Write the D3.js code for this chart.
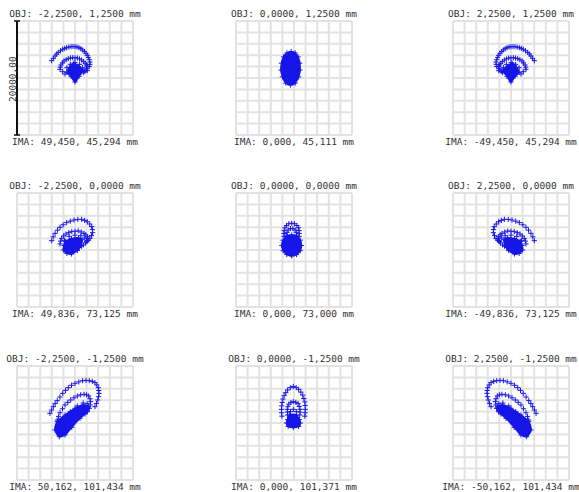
<!DOCTYPE html>
<html>
<head>
<meta charset="utf-8">
<script src="https://cdn.jsdelivr.net/npm/d3@7"></script>
<style>
  html, body { margin: 0; padding: 0; background: #fff; }
  svg { display: block; }
  text { font-family: "DejaVu Sans Mono", "Liberation Mono", monospace; font-size: 9.5px; fill: #333; }
</style>
</head>
<body>
<svg id="chart" width="579" height="492"></svg>
<script>
// Spot diagram: 3 x 3 field points, ray intercepts in µm relative to the chief ray.
const objLabels = [
  "OBJ: -2,2500, 1,2500 mm", "OBJ: 0,0000, 1,2500 mm", "OBJ: 2,2500, 1,2500 mm",
  "OBJ: -2,2500, 0,0000 mm", "OBJ: 0,0000, 0,0000 mm", "OBJ: 2,2500, 0,0000 mm",
  "OBJ: -2,2500, -1,2500 mm", "OBJ: 0,0000, -1,2500 mm", "OBJ: 2,2500, -1,2500 mm"
];
const imaLabels = [
  "IMA: 49,450, 45,294 mm", "IMA: 0,000, 45,111 mm", "IMA: -49,450, 45,294 mm",
  "IMA: 49,836, 73,125 mm", "IMA: 0,000, 73,000 mm", "IMA: -49,836, 73,125 mm",
  "IMA: 50,162, 101,434 mm", "IMA: 0,000, 101,371 mm", "IMA: -50,162, 101,434 mm"
];
const boxSize = 20000;          // full width of each plot box, µm
const scaleLabel = "20000,00";

// Field 1 (-2.25, 1.25)
const f1Rings = [
  [[-4020,3040],[-3720,3450],[-3440,3860],[-3160,4200],[-2880,4500],[-2500,4780],[-2120,5040],[-1780,5200],[-1440,5320],[-1060,5430],[-680,5500],[-340,5520],[0,5500],[340,5450],[680,5320],[1000,5140],[1320,4920],[1620,4640],[1900,4320],[2120,3980],[2300,3620],[2460,3220],[2580,2800],[2560,2400],[2460,2000],[2120,1280]],
  [[-2580,1520],[-2540,1900],[-2420,2280],[-2160,2640],[-1900,2980],[-1530,3200],[-1160,3400],[-780,3500],[-400,3560],[0,3550],[400,3500],[780,3350],[1140,3160],[1480,2880],[1780,2580],[1980,2300],[2120,2000],[2040,1700],[1900,1400],[1680,1160],[1440,940],[-2120,1100],[-1720,700]],
  [[-1400,1800],[-800,2400],[0,2700],[800,2400],[1300,1800]]
];
const f1Core = [[-200,2600],[600,2000],[1400,1300],[700,300],[0,-700],[-700,300],[-1400,1000],[-900,1900]];

// Field 2 (0, 1.25)
const f2Rings = [
  [[-1200,3600],[-600,3900],[0,3600],[-1400,2800],[200,2800]]
];
const f2Core = [[-500,4620],[200,4400],[700,3700],[1000,2600],[1040,1400],[800,200],[200,-900],[-600,-1220],[-1400,-900],[-2000,200],[-2240,1400],[-2160,2600],[-1800,3700],[-1200,4400]];

// Field 3 (2.25, 1.25)
const f3Rings = [
  [[4020,3040],[3720,3450],[3440,3860],[3160,4200],[2880,4500],[2500,4780],[2120,5040],[1780,5200],[1440,5320],[1060,5430],[680,5500],[340,5520],[0,5500],[-340,5450],[-680,5320],[-1000,5140],[-1320,4920],[-1620,4640],[-1900,4320],[-2120,3980],[-2300,3620],[-2460,3220],[-2580,2800],[-2560,2400],[-2460,2000],[-2120,1280]],
  [[2580,1520],[2540,1900],[2420,2280],[2160,2640],[1900,2980],[1530,3200],[1160,3400],[780,3500],[400,3560],[0,3550],[-400,3500],[-780,3350],[-1140,3160],[-1480,2880],[-1780,2580],[-1980,2300],[-2120,2000],[-2040,1700],[-1900,1400],[-1680,1160],[-1440,940],[2120,1100],[1720,700]],
  [[1400,1800],[800,2400],[0,2700],[-800,2400],[-1300,1800]]
];
const f3Core = [[200,2600],[-600,2000],[-1400,1300],[-700,300],[0,-700],[700,300],[1400,1000],[900,1900]];

// Field 4 (-2.25, 0)
const f4Rings = [
  [[-4020,1640],[-3760,2300],[-3440,2920],[-3020,3480],[-2580,3980],[-2040,4420],[-1440,4800],[-820,5060],[-180,5260],[480,5360],[1140,5380],[1660,5200],[2120,4960],[2540,4560],[2880,4100],[3000,3580],[3040,3040],[2840,2520],[2580,2040],[2300,1740],[2000,1460]],
  [[-2580,1060],[-2480,1560],[-2300,2040],[-1960,2460],[-1560,2800],[-1080,3040],[-560,3220],[0,3300],[560,3340],[1080,3160],[1560,2920],[1860,2640],[2120,2340],[2160,1980],[2120,1640],[1800,1240],[1440,880],[1100,660],[740,480]],
  [[-1800,1700],[-1000,2400],[0,2600],[1000,2500],[1600,2100]]
];
const f4Core = [[-1600,1500],[-600,2000],[600,2100],[1200,1800],[1000,800],[400,-100],[-600,-700],[-1400,-600],[-2000,0],[-1900,800]];

// Field 5 (0, 0)
const f5Rings = [
  [[-1720,2400],[-1740,2900],[-1700,3400],[-1560,3900],[-1300,4300],[-900,4600],[-400,4700],[100,4600],[500,4300],[760,3900],[880,3400],[900,2900],[880,2400]],
  [[-1200,2600],[-1200,3100],[-1000,3500],[-600,3750],[-200,3750],[200,3500],[400,3100],[400,2600]]
];
const f5Core = [[1300,800],[1080,1720],[440,2400],[-400,2640],[-1240,2400],[-1880,1720],[-2100,800],[-1880,-120],[-1240,-800],[-400,-1040],[440,-800],[1080,-120]];

// Field 6 (2.25, 0)
const f6Rings = [
  [[4020,1640],[3760,2300],[3440,2920],[3020,3480],[2580,3980],[2040,4420],[1440,4800],[820,5060],[180,5260],[-480,5360],[-1140,5380],[-1660,5200],[-2120,4960],[-2540,4560],[-2880,4100],[-3000,3580],[-3040,3040],[-2840,2520],[-2580,2040],[-2300,1740],[-2000,1460]],
  [[2580,1060],[2480,1560],[2300,2040],[1960,2460],[1560,2800],[1080,3040],[560,3220],[0,3300],[-560,3340],[-1080,3160],[-1560,2920],[-1860,2640],[-2120,2340],[-2160,1980],[-2120,1640],[-1800,1240],[-1440,880],[-1100,660],[-740,480]],
  [[1800,1700],[1000,2400],[0,2600],[-1000,2500],[-1600,2100]]
];
const f6Core = [[1600,1500],[600,2000],[-600,2100],[-1200,1800],[-1000,800],[-400,-100],[600,-700],[1400,-600],[2000,0],[1900,800]];

// Field 7 (-2.25, -1.25)
const f7Rings = [
  [[-4320,1700],[-4040,2280],[-3740,2860],[-3420,3400],[-3060,3920],[-2600,4560],[-2120,5200],[-1640,5720],[-1160,6200],[-600,6620],[0,6960],[660,7220],[1320,7420],[1900,7480],[2460,7420],[2980,7300],[3440,7080],[3760,6680],[4000,6200],[4100,5700],[4140,5200],[4060,4620],[3920,4040],[3700,3440],[3440,2860]],
  [[-3060,520],[-2840,1160],[-2580,1800],[-2160,2500],[-1720,3160],[-1240,3620],[-740,4040],[-180,4420],[400,4740],[980,4940],[1560,5040],[2000,4940],[2360,4740],[2580,4260],[2700,3740],[2620,3160],[2460,2580],[2120,2060],[1720,1580]],
  [[-2400,-400],[-1800,800],[-800,2000],[400,3000],[1400,3500],[2100,3400],[2400,2600]]
];
const f7Core = [[-2700,-2400],[-3440,-1220],[-3060,240],[-1720,1400],[0,2580],[1440,3160],[2300,2860],[2120,1980],[860,820],[-560,-760],[-1720,-2100]];

// Field 8 (0, -1.25)
const f8Rings = [
  [[-2080,1200],[-2140,1800],[-2160,2400],[-2120,3000],[-2040,3600],[-1900,4200],[-1700,4800],[-1420,5320],[-1100,5800],[-640,6200],[-120,6400],[380,6200],[800,5900],[1180,5420],[1500,4900],[1700,4300],[1860,3700],[1920,3060],[1940,2400],[1920,1800],[1860,1200]],
  [[-1100,1400],[-1140,1900],[-1160,2400],[-1060,2860],[-900,3300],[-540,3580],[-120,3740],[320,3620],[700,3400],[900,2900],[1040,2400],[1040,1900],[1000,1400]],
  [[-800,1000],[-600,2000],[-120,2400],[400,2000],[600,1000]]
];
const f8Core = [[-800,1400],[400,1400],[900,600],[1100,0],[800,-600],[-120,-800],[-1000,-600],[-1300,0],[-1100,600]];

// Field 9 (2.25, -1.25)
const f9Rings = [
  [[4320,1700],[4040,2280],[3740,2860],[3420,3400],[3060,3920],[2600,4560],[2120,5200],[1640,5720],[1160,6200],[600,6620],[0,6960],[-660,7220],[-1320,7420],[-1900,7480],[-2460,7420],[-2980,7300],[-3440,7080],[-3760,6680],[-4000,6200],[-4100,5700],[-4140,5200],[-4060,4620],[-3920,4040],[-3700,3440],[-3440,2860]],
  [[3060,520],[2840,1160],[2580,1800],[2160,2500],[1720,3160],[1240,3620],[740,4040],[180,4420],[-400,4740],[-980,4940],[-1560,5040],[-2000,4940],[-2360,4740],[-2580,4260],[-2700,3740],[-2620,3160],[-2460,2580],[-2120,2060],[-1720,1580]],
  [[2400,-400],[1800,800],[800,2000],[-400,3000],[-1400,3500],[-2100,3400],[-2400,2600]]
];
const f9Core = [[2700,-2400],[3440,-1220],[3060,240],[1720,1400],[0,2580],[-1440,3160],[-2300,2860],[-2120,1980],[-860,820],[560,-760],[1720,-2100]];

const fieldRings = [f1Rings, f2Rings, f3Rings, f4Rings, f5Rings, f6Rings, f7Rings, f8Rings, f9Rings];
const fieldCores = [f1Core, f2Core, f3Core, f4Core, f5Core, f6Core, f7Core, f8Core, f9Core];

// Layout
const colX = [17, 236, 453];
const rowY = [21, 193, 366];
const boxW = 116, boxH = 114;
const spotColor = "#1616e8";

const svg = d3.select("#chart");
const half = boxSize / 2;
const plusPath = "M-2.6,0H2.6M0,-2.6V2.6";

fieldRings.forEach((rings, i) => {
  const x0 = colX[i % 3], y0 = rowY[Math.floor(i / 3)];
  const x = d3.scaleLinear().domain([-half, half]).range([x0, x0 + boxW]);
  const y = d3.scaleLinear().domain([-half, half]).range([y0 + boxH, y0]);
  const g = svg.append("g");

  // grid
  const ticks = d3.range(-half, half + 1, boxSize / 10);
  g.selectAll(".gx").data(ticks).join("line")
    .attr("x1", d => x(d)).attr("x2", d => x(d))
    .attr("y1", y(-half)).attr("y2", y(half))
    .attr("stroke", "#e2e2e2").attr("stroke-width", 2);
  g.selectAll(".gy").data(ticks).join("line")
    .attr("y1", d => y(d)).attr("y2", d => y(d))
    .attr("x1", x(-half)).attr("x2", x(half))
    .attr("stroke", "#e2e2e2").attr("stroke-width", 2);

  // dense core of the spot
  const line = d3.line().x(d => x(d[0])).y(d => y(d[1])).curve(d3.curveCatmullRomClosed);
  g.append("path").attr("d", line(fieldCores[i]))
    .attr("fill", spotColor).attr("stroke", spotColor).attr("stroke-width", 1.5);

  // individual ray markers
  const pts = rings.flat().concat(fieldCores[i]);
  g.selectAll(".ray").data(pts).join("path")
    .attr("d", plusPath)
    .attr("transform", d => `translate(${x(d[0])},${y(d[1])})`)
    .attr("stroke", spotColor).attr("stroke-width", 1).attr("fill", "none");

  // labels
  const cx = (x(-half) + x(half)) / 2;
  g.append("text").attr("x", cx).attr("y", y(half) - 4)
    .attr("text-anchor", "middle").text(objLabels[i]);
  g.append("text").attr("x", cx).attr("y", y(-half) + 10)
    .attr("text-anchor", "middle").text(imaLabels[i]);

  // scale bar on the first box
  if (i === 0) {
    g.append("line").attr("x1", x(-half)).attr("x2", x(-half))
      .attr("y1", y(-half)).attr("y2", y(half))
      .attr("stroke", "#111").attr("stroke-width", 2);
    [-half, half].forEach(v => {
      g.append("line").attr("x1", x(-half) - 3).attr("x2", x(-half) + 3)
        .attr("y1", y(v)).attr("y2", y(v))
        .attr("stroke", "#111").attr("stroke-width", 1.5);
    });
    g.append("text")
      .attr("transform", `translate(${x(-half) - 1},${y(-200)}) rotate(-90)`)
      .attr("text-anchor", "middle").text(scaleLabel);
  }
});
</script>
</body>
</html>
